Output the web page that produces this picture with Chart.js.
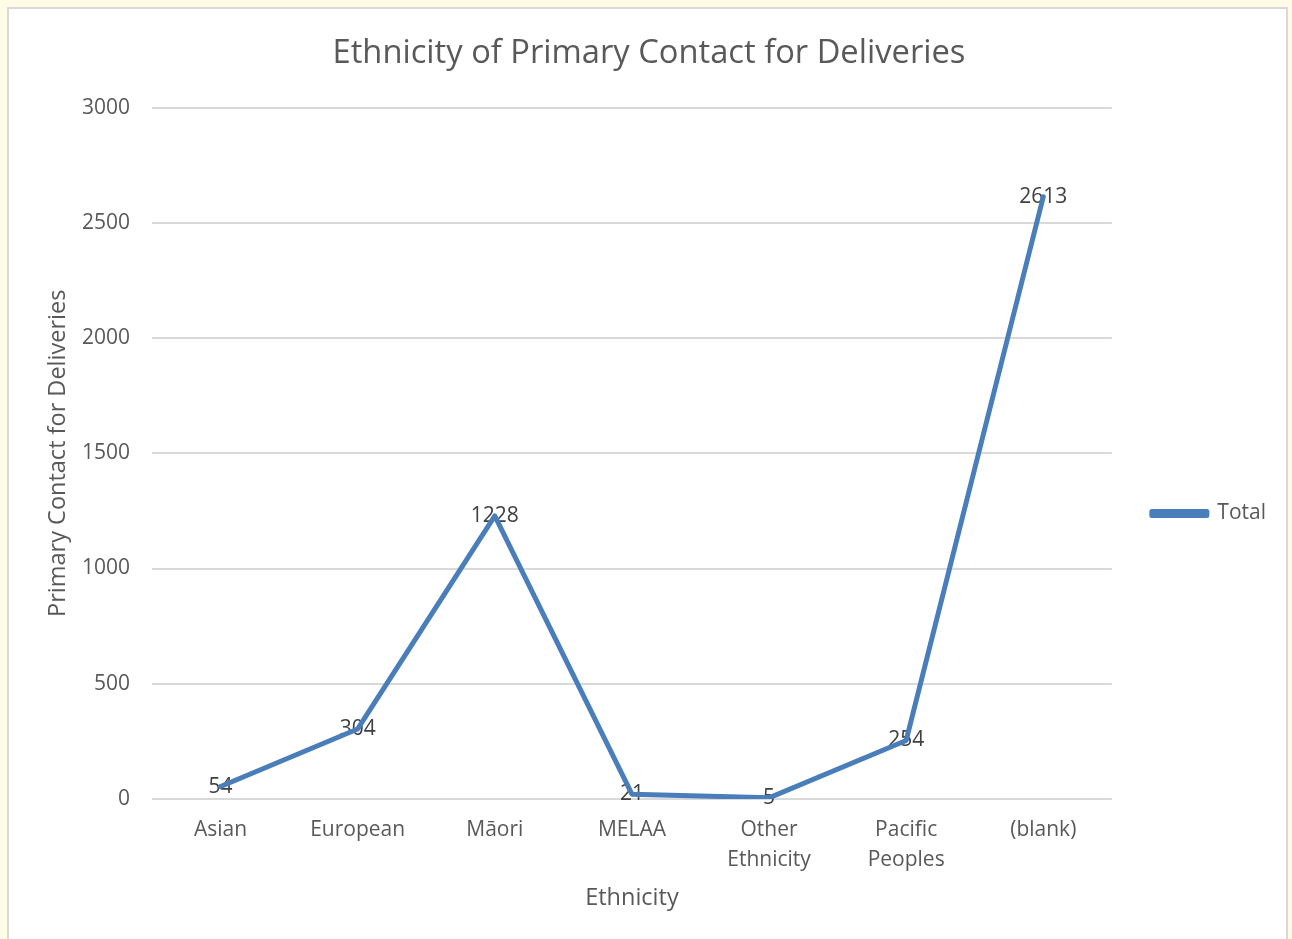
<!DOCTYPE html>
<html>
<head>
<meta charset="utf-8">
<script src="https://cdn.jsdelivr.net/npm/chart.js@4/dist/chart.umd.min.js"></script>
<style>
  html, body { margin: 0; padding: 0; background: #fefbe7; overflow: hidden; }
  #panel { position: absolute; left: 7px; top: 7px; width: 1277px; height: 960px; background: #fff; border: 2px solid #d9d9d9; }
  #wrap { position: absolute; left: 0; top: 0; width: 1292px; height: 939px; }
</style>
</head>
<body>
<div id="panel"></div>
<div id="wrap"><canvas id="lineChart"></canvas></div>
<script>
// values
const categories = ['Asian', 'European', 'Māori', 'MELAA', ['Other', 'Ethnicity'], ['Pacific', 'Peoples'], '(blank)'];
const totals = [54, 304, 1228, 21, 5, 254, 2613];
const yTicks = [0, 500, 1000, 1500, 2000, 2500, 3000];

const FONT = "'Open Sans', 'Liberation Sans', sans-serif";

// data labels drawn under the line, like the original
const valueLabels = {
  id: 'valueLabels',
  beforeDatasetsDraw(chart) {
    const ctx = chart.ctx;
    const meta = chart.getDatasetMeta(0);
    ctx.save();
    ctx.font = '21px ' + FONT;
    ctx.fillStyle = '#404040';
    ctx.textAlign = 'center';
    ctx.textBaseline = 'middle';
    meta.data.forEach((pt, i) => {
      ctx.fillText(String(totals[i]), pt.x, pt.y);
    });
    ctx.restore();
  }
};

const config = {
  type: 'line',
  data: {
    labels: categories,
    datasets: [{
      label: 'Total',
      data: totals,
      borderColor: '#4a7ebb',
      backgroundColor: '#4a7ebb',
      borderWidth: 5,
      borderCapStyle: 'round',
      borderJoinStyle: 'round',
      pointRadius: 0,
      tension: 0
    }]
  },
  options: {
    responsive: true,
    maintainAspectRatio: false,
    animation: false,
    layout: { padding: { top: 34, left: 22, right: 16, bottom: 20 } },
    plugins: {
      title: {
        display: true,
        text: 'Ethnicity of Primary Contact for Deliveries',
        color: '#595959',
        font: { family: FONT, size: 32.7, weight: 'normal' },
        padding: { top: 0, bottom: 34.3 }
      },
      legend: {
        position: 'right',
        title: { display: true, text: '', padding: { top: 25, bottom: 25 }, font: { size: 20 } },
        labels: {
          boxWidth: 55,
          boxHeight: 4,
          padding: 40,
          color: '#595959',
          font: { family: FONT, size: 21 }
        }
      },
      tooltip: { enabled: false }
    },
    scales: {
      x: {
        offset: true,
        grid: { display: false, drawTicks: false },
        border: { display: false },
        ticks: { color: '#595959', padding: 16, maxRotation: 0, font: { family: FONT, size: 21, lineHeight: 1.43 } },
        title: { display: true, text: 'Ethnicity', color: '#595959', padding: { top: 0, bottom: 7 }, font: { family: FONT, size: 23.5, lineHeight: 1.2 } },
        afterFit(scale) { scale.height = 120; }
      },
      y: {
        min: 0,
        max: 3000,
        afterBuildTicks(scale) { scale.ticks = yTicks.map(v => ({ value: v })); },
        grid: { color: '#d9d9d9', lineWidth: 2, drawTicks: false },
        border: { display: false },
        ticks: { color: '#595959', padding: 22, font: { family: FONT, size: 21 }, callback: v => String(v) },
        title: { display: true, text: 'Primary Contact for Deliveries', color: '#595959', padding: { top: 22, bottom: 0 }, font: { family: FONT, size: 23.5, lineHeight: 1.2 } },
        afterFit(scale) { scale.width = 130; }
      }
    }
  },
  plugins: [valueLabels]
};

const lineChart = new Chart(document.getElementById('lineChart').getContext('2d'), config);
</script>
</body>
</html>
